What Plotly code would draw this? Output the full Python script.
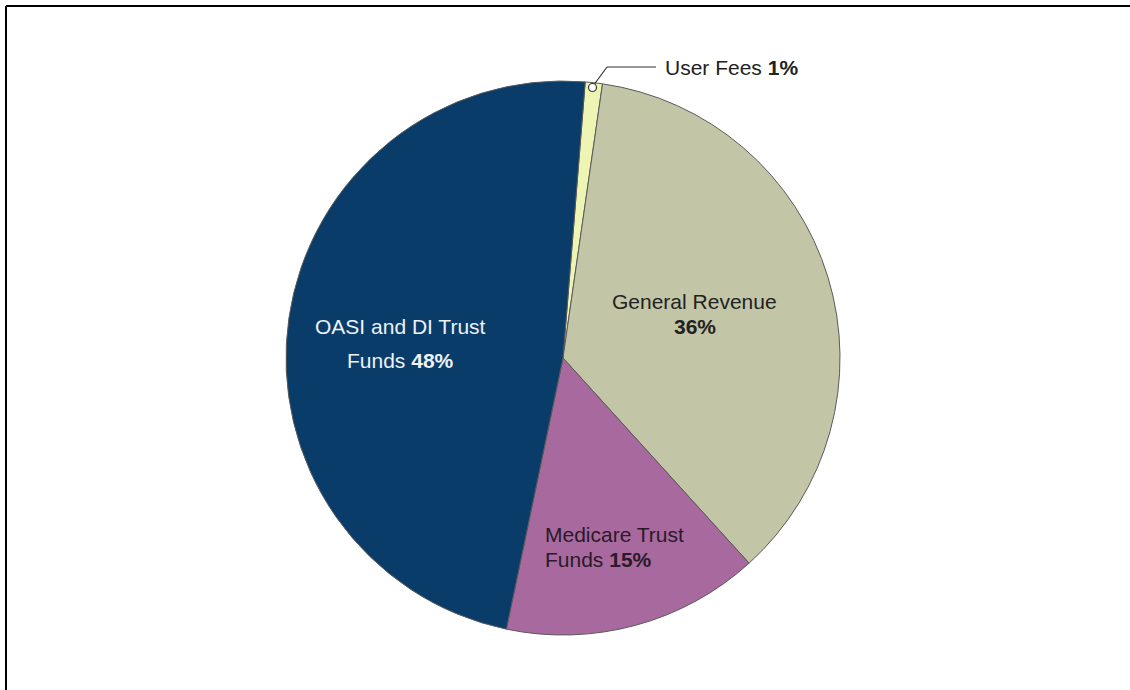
import plotly.graph_objects as go

categories = ["User Fees", "General Revenue", "Medicare Trust Funds", "OASI and DI Trust Funds"]
values = [1, 36, 15, 48]
colors = ["#eef4b3", "#c2c6a6", "#a7699e", "#0a3c69"]

W, H = 1130, 690
def px(x):
    return x / W
def py(y):
    return 1 - y / H

fig = go.Figure()
fig.add_trace(go.Pie(
    labels=categories,
    values=values,
    sort=False,
    direction="clockwise",
    rotation=4.6,
    textinfo="none",
    hoverinfo="label+percent",
    marker=dict(colors=colors, line=dict(color="#5a5a5a", width=1)),
    domain=dict(x=[px(286), px(840)], y=[py(635), py(81)]),
    showlegend=False,
))

font_family = "Liberation Sans, Arial, sans-serif"
fs = 21

def pct(v):
    return f"<b>{v}%</b>"

# (text, x, y, xanchor, color)
label_lines = [
    ("OASI and DI Trust", 400, 326, "center", "#eef2f7"),
    (f"Funds {pct(values[3])}", 401, 360, "center", "#eef2f7"),
    ("General Revenue", 694, 301, "center", "#222222"),
    (pct(values[1]), 695, 327, "center", "#222222"),
    ("Medicare Trust", 543, 534, "left", "#2a1a2a"),
    (f"Funds {pct(values[2])}", 543, 559, "left", "#2a1a2a"),
    (f"User Fees {pct(values[0])}", 663, 68, "left", "#222222"),
]
for text, x, y, xa, col in label_lines:
    fig.add_annotation(
        x=px(x), y=py(y), xref="paper", yref="paper",
        text=text, showarrow=False, xanchor=xa, yanchor="middle",
        font=dict(family=font_family, size=fs, color=col),
    )

# frame (top and left edges)
fig.add_shape(type="line", xref="paper", yref="paper",
              x0=px(6), y0=py(6), x1=1.0, y1=py(6), line=dict(color="black", width=2))
fig.add_shape(type="line", xref="paper", yref="paper",
              x0=px(6), y0=py(6), x1=px(6), y1=0, line=dict(color="black", width=2))

# leader line for User Fees
fig.add_shape(type="line", xref="paper", yref="paper",
              x0=px(593), y0=py(86), x1=px(607), y1=py(67),
              line=dict(color="#333333", width=1.2))
fig.add_shape(type="line", xref="paper", yref="paper",
              x0=px(607), y0=py(67), x1=px(656), y1=py(67),
              line=dict(color="#333333", width=1.2))
fig.add_shape(type="circle", xref="paper", yref="paper",
              x0=px(588.5), y0=py(91.5), x1=px(596.5), y1=py(83.5),
              line=dict(color="#333333", width=1.2), fillcolor="white")

fig.update_layout(
    width=W, height=H,
    margin=dict(l=0, r=0, t=0, b=0),
    paper_bgcolor="white",
    plot_bgcolor="white",
)

fig.write_html("out.html", config={"displayModeBar": False},
               post_script="document.body.style.margin='0';")
